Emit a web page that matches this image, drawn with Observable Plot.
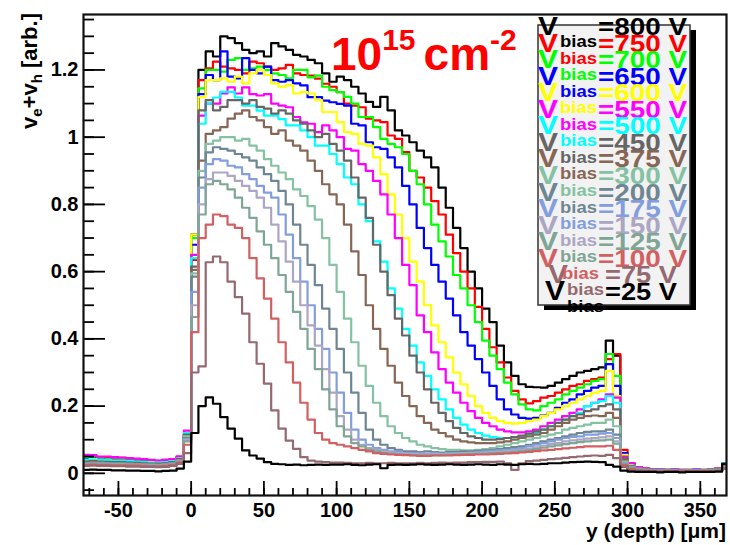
<!DOCTYPE html>
<html>
<head>
<meta charset="utf-8">
<script src="https://cdn.jsdelivr.net/npm/d3@7"></script>
<script src="https://cdn.jsdelivr.net/npm/@observablehq/plot@0.6"></script>
<style>
  html, body { margin: 0; padding: 0; background: #fff; }
  #chart { width: 730px; height: 545px; }
  svg { font-family: "Liberation Sans", Arial, Helvetica, sans-serif; }
</style>
</head>
<body>
<div id="chart"></div>
<script>
// Histogram binning: 5 µm bins starting at -75 µm
const binStart = -75;
const binWidth = 5;

// Bias voltages (legend order = drawing order)
const voltages = [800, 750, 700, 650, 600, 550, 500, 450, 375, 300, 200, 175, 150, 125, 100, 75, 25];

// v_e + v_h per depth bin, one array per bias voltage
const v800 = [
  .038,.037,.036,.036,.035,.034,.033,.032,.030,.029,.030,.031,.033,.045,.110,
  .71,1.20,1.255,1.24,1.30,1.295,1.28,1.26,1.25,1.255,
  1.24,1.28,1.27,1.26,1.245,1.24,1.23,1.22,1.19,1.165,
  1.18,1.17,1.15,1.13,1.105,1.09,1.12,1.08,1.02,1.005,
  .985,.96,.94,.91,.85,.79,.73,.67,.60,.55,
  .49,.45,.38,.33,.29,.265,.257,.256,.255,.26,
  .27,.28,.29,.30,.305,.31,.315,.395,.35,
  .020,.015,.012,.010,.010,.008,.010,.008,.006,.008,.010,.008,.010,.012,.025
];
const v750 = [
  .050,.052,.048,.045,.047,.046,.044,.042,.040,.038,.037,.040,.042,.050,.115,
  .635,1.17,1.205,1.225,1.21,1.205,1.20,1.19,1.225,1.22,
  1.21,1.20,1.205,1.215,1.19,1.185,1.183,1.174,1.159,1.15,
  1.134,1.10,1.094,1.089,1.055,1.05,1.045,1.005,.995,.956,
  .90,.88,.85,.81,.77,.71,.655,.60,.55,.495,
  .43,.375,.33,.285,.245,.22,.208,.215,.225,.23,
  .24,.25,.26,.265,.275,.28,.285,.34,.355,
  .070,.030,.018,.015,.012,.012,.010,.012,.010,.010,.012,.010,.012,.015,.030
];
const v700 = [
  .045,.046,.044,.042,.041,.042,.040,.038,.036,.035,.034,.036,.040,.048,.115,
  .70,1.145,1.20,1.20,1.195,1.23,1.235,1.20,1.205,1.21,
  1.20,1.19,1.185,1.175,1.20,1.20,1.178,1.183,1.15,1.14,
  1.134,1.12,1.10,1.06,1.06,1.03,.995,.98,.97,.95,
  .90,.86,.80,.74,.69,.645,.59,.55,.50,.45,
  .395,.35,.31,.27,.235,.205,.19,.187,.20,.21,
  .22,.235,.245,.255,.265,.275,.28,.355,.29,
  .060,.028,.016,.013,.011,.010,.010,.011,.009,.010,.011,.010,.011,.013,.030
];
const v650 = [
  .042,.044,.042,.040,.040,.039,.038,.036,.035,.034,.033,.035,.038,.046,.110,
  .68,1.128,1.185,1.17,1.255,1.18,1.175,1.235,1.20,1.19,
  1.21,1.17,1.165,1.17,1.16,1.154,1.119,1.119,1.109,1.104,
  1.099,1.094,1.04,1.035,.985,.97,.965,.94,.91,.855,
  .80,.73,.67,.62,.57,.52,.47,.42,.38,.34,
  .30,.26,.22,.19,.175,.165,.163,.165,.172,.18,
  .195,.21,.22,.235,.245,.255,.26,.325,.26,
  .060,.026,.015,.012,.010,.010,.009,.010,.008,.009,.010,.009,.010,.012,.028
];
const v600 = [
  .040,.042,.041,.040,.038,.038,.037,.035,.034,.033,.033,.034,.037,.045,.115,
  .71,1.12,1.17,1.17,1.175,1.165,1.18,1.16,1.19,1.20,
  1.185,1.16,1.15,1.155,1.13,1.134,1.13,1.11,1.075,1.075,
  1.045,1.015,1.01,.98,.975,.94,.89,.83,.77,.70,
  .63,.57,.50,.44,.39,.345,.30,.265,.23,.20,
  .18,.165,.155,.15,.148,.15,.155,.16,.17,.18,
  .19,.20,.21,.22,.23,.24,.245,.305,.23,
  .055,.025,.015,.012,.010,.009,.010,.009,.008,.010,.009,.010,.010,.012,.022
];
const v550 = [
  .055,.054,.050,.050,.048,.047,.045,.044,.042,.040,.038,.040,.042,.050,.127,
  .65,1.064,1.10,1.10,1.13,1.148,1.13,1.148,1.128,1.124,
  1.128,1.10,1.094,1.089,1.06,1.044,1.04,1.015,1.035,1.02,
  1.0,.965,.96,.92,.90,.87,.83,.77,.70,.62,
  .56,.47,.42,.36,.31,.27,.24,.21,.185,.165,
  .15,.14,.13,.125,.122,.122,.125,.13,.14,.15,
  .16,.17,.18,.19,.20,.21,.22,.235,.225,
  .050,.030,.018,.014,.012,.011,.010,.012,.010,.010,.012,.010,.011,.013,.025
];
const v500 = [
  .040,.041,.040,.039,.037,.037,.036,.034,.033,.032,.032,.033,.036,.044,.120,
  .64,1.04,1.10,1.118,1.135,1.135,1.118,1.094,1.094,1.079,
  1.064,1.064,1.054,1.035,1.035,1.02,1.0,.975,.975,.95,
  .92,.88,.86,.80,.75,.69,.63,.55,.49,.43,
  .38,.33,.29,.25,.22,.19,.165,.145,.13,.12,
  .112,.108,.105,.105,.107,.11,.115,.12,.13,.14,
  .15,.16,.17,.18,.20,.21,.215,.23,.21,
  .045,.022,.014,.012,.010,.010,.009,.010,.008,.009,.010,.009,.010,.012,.030
];
const v450 = [
  .035,.036,.035,.034,.033,.033,.032,.031,.030,.029,.029,.030,.033,.042,.115,
  .615,1.08,1.11,1.08,1.09,1.11,1.11,1.10,1.11,1.09,
  1.085,1.07,1.08,1.07,1.05,1.04,1.02,1.0,1.01,.98,
  .96,.93,.88,.82,.76,.68,.60,.53,.46,.41,
  .35,.30,.25,.21,.18,.155,.135,.12,.11,.105,
  .10,.10,.102,.105,.108,.112,.118,.125,.13,.14,
  .15,.16,.17,.175,.185,.19,.20,.205,.19,
  .045,.020,.013,.011,.010,.009,.009,.009,.008,.009,.009,.009,.010,.011,.025
];
const v375 = [
  .033,.034,.033,.032,.031,.031,.030,.029,.028,.027,.027,.028,.031,.040,.110,
  .605,.93,1.01,1.02,1.03,1.055,1.07,1.08,1.06,1.05,
  1.03,1.01,1.02,.99,.975,.96,.93,.90,.86,.83,
  .80,.74,.66,.59,.50,.43,.37,.32,.27,.23,
  .20,.17,.15,.13,.12,.11,.10,.095,.092,.09,
  .09,.09,.092,.095,.10,.105,.11,.115,.12,.13,
  .14,.15,.16,.165,.17,.172,.17,.18,.165,
  .040,.020,.012,.010,.009,.009,.008,.009,.008,.008,.009,.008,.009,.010,.022
];
const v300 = [
  .030,.031,.031,.030,.029,.029,.028,.027,.026,.026,.025,.027,.030,.038,.110,
  .595,.90,.98,.99,1.0,1.0,.99,.995,.975,.96,
  .935,.915,.895,.875,.845,.825,.795,.755,.70,.62,
  .54,.46,.39,.32,.26,.21,.17,.14,.12,.105,
  .095,.085,.08,.075,.072,.07,.07,.068,.068,.07,
  .072,.075,.08,.085,.09,.095,.10,.105,.11,.115,
  .12,.13,.135,.14,.145,.15,.15,.16,.14,
  .035,.018,.012,.010,.009,.008,.008,.008,.007,.008,.008,.008,.009,.010,.020
];
const v200 = [
  .029,.030,.029,.029,.028,.027,.027,.026,.025,.025,.024,.026,.029,.037,.105,
  .585,.88,.955,.97,.965,.96,.95,.94,.93,.91,
  .89,.87,.84,.80,.74,.68,.62,.56,.49,.43,
  .37,.30,.24,.18,.13,.10,.085,.075,.07,.065,
  .065,.063,.065,.063,.062,.063,.063,.065,.065,.067,
  .068,.07,.072,.075,.078,.08,.085,.09,.095,.10,
  .105,.11,.115,.12,.123,.125,.125,.13,.115,
  .030,.016,.011,.009,.008,.008,.007,.008,.007,.007,.008,.007,.008,.009,.018
];
const v175 = [
  .028,.029,.028,.028,.027,.027,.026,.025,.025,.024,.024,.025,.028,.036,.100,
  .54,.85,.92,.935,.93,.915,.91,.89,.875,.855,
  .835,.82,.77,.71,.64,.57,.50,.43,.37,.30,
  .24,.18,.13,.10,.085,.075,.07,.065,.065,.06,
  .06,.06,.058,.06,.058,.06,.06,.06,.062,.063,
  .065,.067,.068,.07,.072,.075,.08,.085,.09,.095,
  .10,.105,.108,.11,.115,.115,.118,.12,.105,
  .030,.015,.010,.009,.008,.007,.007,.008,.007,.007,.007,.007,.008,.009,.018
];
const v150 = [
  .027,.028,.027,.027,.026,.026,.025,.025,.024,.023,.023,.024,.027,.035,.100,
  .50,.80,.875,.895,.895,.885,.87,.855,.84,.82,
  .79,.74,.69,.63,.57,.50,.44,.38,.31,.24,
  .17,.13,.10,.085,.075,.07,.065,.062,.06,.058,
  .057,.056,.056,.057,.057,.058,.058,.06,.06,.061,
  .062,.063,.065,.066,.068,.07,.073,.077,.082,.087,
  .09,.095,.098,.10,.103,.105,.107,.11,.095,
  .028,.014,.010,.008,.008,.007,.007,.007,.006,.007,.007,.007,.007,.008,.017
];
const v125 = [
  .026,.027,.026,.026,.025,.025,.024,.024,.023,.022,.022,.023,.026,.034,.095,
  .465,.77,.86,.87,.86,.845,.82,.79,.76,.72,
  .68,.64,.59,.54,.48,.43,.37,.31,.25,.19,
  .14,.11,.09,.08,.07,.065,.06,.058,.056,.055,
  .054,.053,.053,.054,.054,.055,.055,.056,.057,.058,
  .058,.06,.061,.062,.064,.066,.068,.072,.076,.08,
  .083,.087,.09,.093,.095,.097,.098,.10,.088,
  .027,.014,.009,.008,.007,.007,.007,.007,.006,.006,.007,.006,.007,.008,.016
];
const v100 = [
  .025,.026,.025,.025,.024,.024,.023,.023,.022,.021,.021,.022,.025,.032,.085,
  .42,.70,.74,.77,.765,.74,.73,.70,.64,.58,
  .52,.46,.39,.33,.27,.21,.16,.12,.10,.09,
  .085,.08,.075,.07,.065,.06,.058,.056,.055,.054,
  .053,.052,.052,.053,.053,.053,.054,.055,.055,.056,
  .056,.057,.058,.059,.06,.062,.064,.066,.068,.07,
  .072,.074,.076,.078,.08,.08,.08,.082,.07,
  .025,.013,.009,.008,.007,.006,.006,.007,.006,.006,.006,.006,.007,.008,.015
];
const v75 = [
  .022,.023,.022,.022,.021,.021,.020,.020,.019,.019,.018,.019,.022,.028,.060,
  .30,.318,.628,.645,.628,.57,.524,.475,.39,.326,
  .267,.187,.133,.097,.073,.048,.038,.035,.033,.032,
  .032,.031,.03,.03,.031,.03,.03,.031,.03,.03,
  .03,.031,.03,.031,.032,.031,.032,.032,.033,.033,
  .034,.034,.035,.03,.01,.03,.036,.038,.04,.042,
  .044,.046,.048,.05,.052,.053,.052,.055,.045,
  .020,.010,.007,.006,.006,.005,.005,.006,.005,.005,.005,.005,.006,.007,.013
];
const v25 = [
  .010,.011,.010,.010,.009,.009,.008,.008,.007,.007,.006,.007,.008,.014,.035,
  .12,.20,.226,.207,.167,.133,.103,.068,.053,.044,
  .033,.028,.027,.025,.026,.024,.025,.026,.025,.026,
  .026,.027,.025,.024,.026,.027,.015,.025,.026,.025,
  .026,.027,.026,.025,.026,.027,.026,.025,.026,.027,
  .026,.025,.027,.026,.025,.027,.028,.027,.028,.03,
  .03,.032,.033,.034,.035,.034,.033,.025,.02,
  .008,.005,.004,.004,.004,.003,.004,.004,.003,.004,.004,.004,.004,.005,.028
];

const seriesValues = [v800, v750, v700, v650, v600, v550, v500, v450, v375, v300, v200, v175, v150, v125, v100, v75, v25];

// Line colours, one per bias voltage
const colors = ["#000000", "#ff0000", "#00ff00", "#0000ff", "#ffff00", "#ff00ff", "#00ffff",
  "#666666", "#876656", "#85c2a3", "#6e8694", "#829ede", "#aba6c4", "#7ea595", "#d25f62", "#946970", "#000000"];

// Axis tick labels
const xTicks = [-50, 0, 50, 100, 150, 200, 250, 300, 350];
const yTicks = [0, 0.2, 0.4, 0.6, 0.8, 1, 1.2];

// Layout
const W = 730, H = 545, mL = 83, mR = 4, mT = 14, mB = 50;
const plotW = W - mL - mR, plotH = H - mT - mB;
const xMinor = d3.range(-70, 368, 10);
const yMinor = d3.range(-0.05, 1.36, 0.05);

function stepPoints(values) {
  const pts = values.map((y, i) => ({x: binStart + i * binWidth, y}));
  pts.push({x: binStart + values.length * binWidth, y: values[values.length - 1]});
  return pts;
}

const font = '"Liberation Sans", Arial, Helvetica, sans-serif';

const plot = Plot.plot({
  width: W,
  height: H,
  marginLeft: mL,
  marginRight: mR,
  marginTop: mT,
  marginBottom: mB,
  x: {domain: [-74, 368]},
  y: {domain: [-0.066, 1.365]},
  style: {fontFamily: font, fontWeight: "bold", background: "#fff", color: "#000", overflow: "visible"},
  marks: [
    ...seriesValues.map((vals, i) =>
      Plot.line(stepPoints(vals), {x: "x", y: "y", curve: "step-after", stroke: colors[i], strokeWidth: 2.2, clip: true})
    ),
    Plot.tickY(yMinor, {y: d => d, insetRight: plotW - 11, stroke: "#000", strokeWidth: 1.8}),
    Plot.tickY(yTicks, {y: d => d, insetRight: plotW - 22, stroke: "#000", strokeWidth: 1.8}),
    Plot.tickX(xMinor, {x: d => d, insetTop: plotH - 7, stroke: "#000", strokeWidth: 1.8}),
    Plot.tickX(xTicks, {x: d => d, insetTop: plotH - 14, stroke: "#000", strokeWidth: 1.8}),
    Plot.frame({stroke: "#111", strokeWidth: 2.2}),
    Plot.axisY(yTicks, {tickSize: 0, tickPadding: 5, fontSize: 20, fontWeight: "bold", tickFormat: d => String(d), label: null}),
    Plot.axisX(xTicks, {tickSize: 0, tickPadding: 7, fontSize: 20, fontWeight: "bold", tickFormat: d => String(d), label: null})
  ]
});

const svg = d3.select(plot);

// Axis titles
svg.append("text")
  .attr("x", 726).attr("y", 538)
  .attr("text-anchor", "end")
  .attr("font-size", 21).attr("font-weight", "bold").attr("fill", "#000")
  .text("y (depth) [μm]");

const yt = svg.append("text")
  .attr("transform", "translate(37,13) rotate(-90)")
  .attr("text-anchor", "end")
  .attr("font-size", 22).attr("font-weight", "bold").attr("fill", "#000");
yt.append("tspan").text("v");
yt.append("tspan").attr("font-size", 15).attr("dy", 5).text("e");
yt.append("tspan").attr("dy", -5).text("+v");
yt.append("tspan").attr("font-size", 15).attr("dy", 5).text("h");
yt.append("tspan").attr("dy", -5).text(" [arb.]");

// Fluence label
const lab = svg.append("text")
  .attr("x", 331).attr("y", 70)
  .attr("text-anchor", "start")
  .attr("fill", "#ff0000").attr("font-weight", "bold").attr("font-size", 46);
lab.append("tspan").text("10");
lab.append("tspan").attr("font-size", 30).attr("dy", -20).text("15");
lab.append("tspan").attr("dy", 20).attr("dx", 8).text("cm");
lab.append("tspan").attr("font-size", 30).attr("dy", -20).text("-2");

// Legend box with shadow
const lg = svg.append("g").attr("font-weight", "bold").attr("text-anchor", "start");
lg.append("rect").attr("x", 544).attr("y", 30).attr("width", 152).attr("height", 280).attr("fill", "#000");
lg.append("rect").attr("x", 538).attr("y", 25).attr("width", 152).attr("height", 280)
  .attr("fill", "#f2f2f2").attr("stroke", "#333").attr("stroke-width", 1.5);

const rowStep = 16.56, firstBase = 35;
voltages.forEach((v, i) => {
  const base = firstBase + rowStep * i;
  const tail = i >= voltages.length - 2;
  const last = i === voltages.length - 1;
  // big V
  lg.append("text")
    .attr("x", tail ? (last ? 545 : 548) : 538).attr("y", base)
    .attr("font-size", last ? 27 : 25).attr("fill", colors[i])
    .attr("textLength", 20).attr("lengthAdjust", "spacingAndGlyphs")
    .text("V");
  // "=NNN V"
  lg.append("text")
    .attr("x", tail ? 605 : 598).attr("y", base)
    .attr("font-size", 24).attr("fill", colors[i])
    .attr("textLength", tail ? 72 : 89).attr("lengthAdjust", "spacingAndGlyphs")
    .text("=" + v + " V");
});
// subscripts, each dropped one row below its V
voltages.forEach((v, i) => {
  const base = firstBase + rowStep * i + 12;
  const x = i >= voltages.length - 2 ? 567 : (i === voltages.length - 3 ? 562 : 560);
  lg.append("text")
    .attr("x", x).attr("y", base)
    .attr("font-size", 17).attr("fill", colors[i])
    .attr("textLength", 37).attr("lengthAdjust", "spacingAndGlyphs")
    .text("bias");
});

document.getElementById("chart").appendChild(plot);
</script>
</body>
</html>
